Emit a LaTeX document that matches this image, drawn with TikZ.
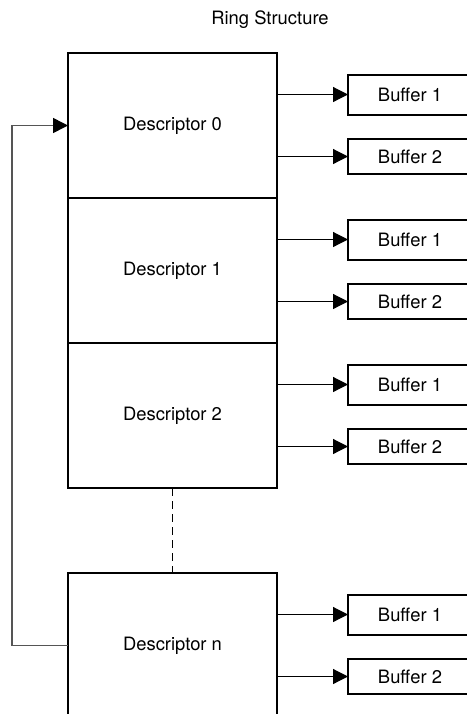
\documentclass[tikz,border=0pt]{standalone}
\usepackage{fontspec}
\setmainfont{TeX Gyre Heros}
\definecolor{ringline}{RGB}{85,85,85}
\usetikzlibrary{arrows.meta,positioning}
\tikzset{
  desc/.style={rectangle,draw=black,line width=1pt,outer sep=0pt,
               minimum width=104.5pt,minimum height=72.5pt,
               font=\fontsize{9.2}{11}\selectfont,align=center},
  buf/.style={rectangle,draw=black,line width=1pt,outer sep=0pt,
              minimum width=62pt,minimum height=#1,
              font=\fontsize{9.2}{11}\selectfont,align=center},
  buf/.default=20pt,
  arr/.style={-{Triangle[length=7.5pt,width=7.5pt,color=black]},line width=0.6pt,#1},
  arr/.default=black,
}
\begin{document}
\begin{tikzpicture}[x=0.5pt,y=-0.5pt]
    \useasboundingbox (0,0) rectangle (467,714);
    \node[font=\fontsize{9.2}{11}\selectfont] (title) at (270,19.5) {Ring Structure};
    \node[desc] (d0) at (172.5,125.5) {Descriptor 0};
    \node[desc,below=0pt of d0] (d1) {Descriptor 1};
    \node[desc,below=0pt of d1] (d2) {Descriptor 2};
    \node[desc,below=42.5pt of d2] (dn) {Descriptor n};
    \foreach \d in {0,1,2,n}{
      \node[buf,right=35.5pt of d\d.east,yshift=15.5pt] (b\d a) {Buffer 1};
      \node[buf=17.5pt,right=35.5pt of d\d.east,yshift=-15.5pt] (b\d b) {Buffer 2};
      \draw[arr] (d\d.east |- b\d a) -- (b\d a.west);
      \draw[arr] (d\d.east |- b\d b) -- (b\d b.west);
    }
    \draw[dashed,dash pattern=on 4pt off 2.5pt,line width=0.5pt] (d2.south) -- (dn.north);
    \draw[arr=ringline,line width=0.8pt] (dn.west) -- ++(-28pt,0) |- (d0.west);
  \end{tikzpicture}
\end{document}
